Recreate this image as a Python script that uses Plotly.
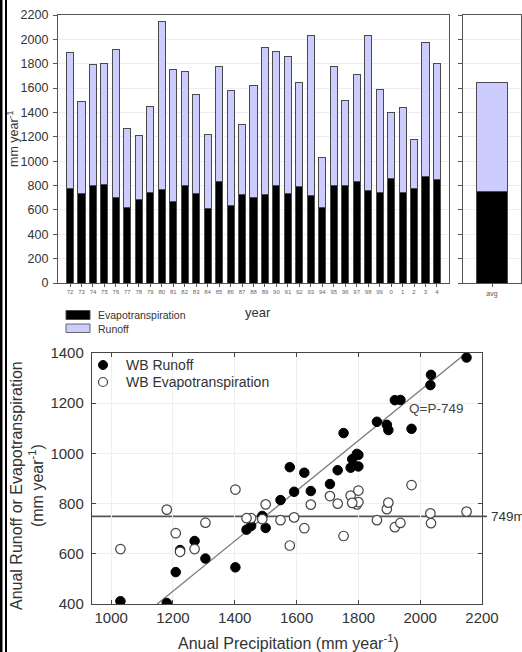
import plotly.graph_objects as go

# ---------------- data ----------------
years = ["72", "73", "74", "75", "76", "77", "78", "79", "80", "81", "82", "83",
         "84", "85", "86", "87", "88", "89", "90", "91", "92", "93", "94", "95",
         "96", "97", "98", "99", "0", "1", "2", "3", "4"]
precip = [1892, 1489, 1795, 1800, 1918, 1270, 1209, 1453, 2150, 1752, 1733, 1548,
          1223, 1775, 1578, 1305, 1625, 1936, 1897, 1860, 1646, 2035, 1030, 1780,
          1500, 1708, 2033, 1592, 1402, 1438, 1180, 1972, 1800]
evapo = [778, 738, 797, 806, 706, 619, 682, 742, 768, 671, 800, 734,
         608, 832, 633, 724, 702, 723, 804, 734, 796, 722, 619, 803,
         797, 830, 761, 745, 856, 742, 776, 874, 852]
runoff = [p - e for p, e in zip(precip, evapo)]
avg_label = ["avg"]
avg_et = [sum(evapo) / len(evapo)]
avg_runoff = [sum(precip) / len(precip) - avg_et[0]]
et_const = 749
fit_p = [et_const + 400, et_const + 1400]
fit_q = [p - et_const for p in fit_p]

W, H = 522, 652
def px(x):
    return x / W
def py(y):
    return 1 - y / H

FONT = "Liberation Sans, Arial, sans-serif"
LAV = "#ccccff"
EDGE = "#4a4a4a"

fig = go.Figure()

# ---------------- top: yearly bars ----------------
fig.add_trace(go.Bar(x=years, y=evapo, name="Evapotranspiration",
                     marker=dict(color="black", line=dict(color=EDGE, width=1)),
                     width=0.62, xaxis="x", yaxis="y", showlegend=False))
fig.add_trace(go.Bar(x=years, y=runoff, name="Runoff",
                     marker=dict(color=LAV, line=dict(color=EDGE, width=1)),
                     width=0.62, xaxis="x", yaxis="y", showlegend=False))
# avg panel
fig.add_trace(go.Bar(x=avg_label, y=avg_et, name="Evapotranspiration",
                     marker=dict(color="black", line=dict(color=EDGE, width=1)),
                     width=0.53, xaxis="x2", yaxis="y2", showlegend=False))
fig.add_trace(go.Bar(x=avg_label, y=avg_runoff, name="Runoff",
                     marker=dict(color=LAV, line=dict(color=EDGE, width=1)),
                     width=0.53, xaxis="x2", yaxis="y2", showlegend=False))

# ---------------- bottom: scatter ----------------
fig.add_trace(go.Scatter(x=fit_p, y=fit_q, mode="lines",
                         line=dict(color="#7a7a7a", width=1.3),
                         xaxis="x3", yaxis="y3", showlegend=False, hoverinfo="skip"))
fig.add_trace(go.Scatter(x=precip, y=runoff, mode="markers", name="WB Runoff",
                         marker=dict(symbol="circle", size=9.5, color="black",
                                     line=dict(color="black", width=1)),
                         xaxis="x3", yaxis="y3", showlegend=False))
fig.add_trace(go.Scatter(x=precip, y=evapo, mode="markers", name="WB Evapotranspiration",
                         marker=dict(symbol="circle", size=9.5, color="white",
                                     line=dict(color="#444", width=1.2)),
                         xaxis="x3", yaxis="y3", showlegend=False))

grid = "#ececf4"
common = dict(automargin=False, zeroline=False)
fig.update_layout(
    width=W, height=H,
    margin=dict(l=0, r=0, t=0, b=0),
    paper_bgcolor="white", plot_bgcolor="white",
    barmode="stack", showlegend=False,
    font=dict(family=FONT, color="#333"),
    xaxis=dict(domain=[px(58), px(449)], type="category", range=[-1.05, 33.05],
               showgrid=False, showline=True, linecolor="#555", linewidth=1.2, mirror=True,
               ticks="outside", ticklen=3, tickcolor="#555",
               tickfont=dict(size=6, color="#666"), anchor="y", **common),
    yaxis=dict(domain=[py(283), py(15)], range=[0, 2200], dtick=200,
               showgrid=True, gridcolor=grid,
               showline=True, linecolor="#555", linewidth=1.2, mirror=True,
               ticks="outside", ticklen=4, tickcolor="#555", ticklabelstandoff=2,
               tickfont=dict(size=12.5, color="#333"), anchor="x", **common),
    xaxis2=dict(domain=[px(463), px(521)], type="category", range=[-0.5, 0.5],
                showgrid=False, showline=True, linecolor="#555", linewidth=1.2, mirror=True,
                ticks="outside", ticklen=3, tickcolor="#555",
                tickfont=dict(size=7, color="#555"), anchor="y2", **common),
    yaxis2=dict(domain=[py(283), py(15)], range=[0, 2200], dtick=200,
                showgrid=True, gridcolor=grid,
                showline=True, linecolor="#555", linewidth=1.2, mirror=True,
                ticks="outside", ticklen=4, tickcolor="#555",
                showticklabels=False, anchor="x2", **common),
    xaxis3=dict(domain=[px(92), px(482)], range=[938, 2200], dtick=200,
                showgrid=True, gridcolor="#eeeeee",
                showline=True, linecolor="#444", linewidth=1.4, mirror="ticks",
                ticks="inside", ticklen=4, tickcolor="#444",
                tickfont=dict(size=15, color="#333"), anchor="y3", **common),
    yaxis3=dict(domain=[py(604), py(353)], range=[400, 1400], dtick=200,
                showgrid=True, gridcolor="#eeeeee",
                showline=True, linecolor="#444", linewidth=1.4, mirror="ticks",
                ticks="inside", ticklen=4, tickcolor="#444", ticklabelstandoff=4,
                tickfont=dict(size=15, color="#333"), anchor="x3", **common),
)

shapes = [
    # left page border
    dict(type="rect", xref="paper", yref="paper", x0=0, x1=px(2.5), y0=0, y1=1,
         fillcolor="black", line=dict(width=0)),
    dict(type="rect", xref="paper", yref="paper", x0=px(5), x1=px(7), y0=0, y1=1,
         fillcolor="black", line=dict(width=0)),
    # top legend swatches
    dict(type="rect", xref="paper", yref="paper", x0=px(66), x1=px(90), y0=py(319.5), y1=py(310.5),
         fillcolor="black", line=dict(color=EDGE, width=1)),
    dict(type="rect", xref="paper", yref="paper", x0=px(66), x1=px(90), y0=py(332.5), y1=py(324),
         fillcolor=LAV, line=dict(color="#666", width=1)),
    # scatter legend symbols
    dict(type="circle", xref="paper", yref="paper", x0=px(98.5), x1=px(107.5),
         y0=py(369.5), y1=py(360.5), fillcolor="black", line=dict(color="black", width=1)),
    dict(type="circle", xref="paper", yref="paper", x0=px(98.5), x1=px(107.5),
         y0=py(386.5), y1=py(377.5), fillcolor="white", line=dict(color="#444", width=1.2)),
    # mean evapotranspiration line
    dict(type="line", xref="paper", yref="y3", x0=px(92), x1=px(487), y0=et_const, y1=et_const,
         line=dict(color="#555", width=1.6), layer="below"),
]

def ann(text, x, y, size, xanchor="center", yanchor="middle", angle=0, color="#333",
        xref="paper", yref="paper"):
    return dict(text=text, xref=xref, yref=yref, x=x, y=y, xanchor=xanchor,
                yanchor=yanchor, textangle=angle, showarrow=False,
                font=dict(size=size, color=color, family=FONT))

annotations = [
    ann("mm year<sup>-1</sup>", px(13), py(139), 12.5, angle=-90),
    ann("year", px(258), py(312), 13),
    ann("Evapotranspiration", px(96), py(315.5), 10.5, xanchor="left"),
    ann("Runoff", px(96), py(329), 10.5, xanchor="left"),
    ann("WB Runoff", px(124), py(365), 14, xanchor="left"),
    ann("WB Evapotranspiration", px(124), py(382), 14, xanchor="left"),
    ann("Q=P-749", 2052, 1177, 13.5, color="#444", xref="x3", yref="y3"),
    ann("749mm", px(489), et_const, 13.5, xanchor="left", yref="y3"),
    ann("Anual Runoff or Evapotranspiration<br>(mm year<sup>-1</sup>)", px(27), py(486), 16,
        angle=-90),
    ann("Anual Precipitation (mm year<sup>-1</sup>)", px(288), py(642), 16),
]
fig.update_layout(shapes=shapes, annotations=annotations)

fig.write_html("out.html", config={"displayModeBar": False},
               post_script="document.body.style.margin='0';document.body.style.padding='0';")
